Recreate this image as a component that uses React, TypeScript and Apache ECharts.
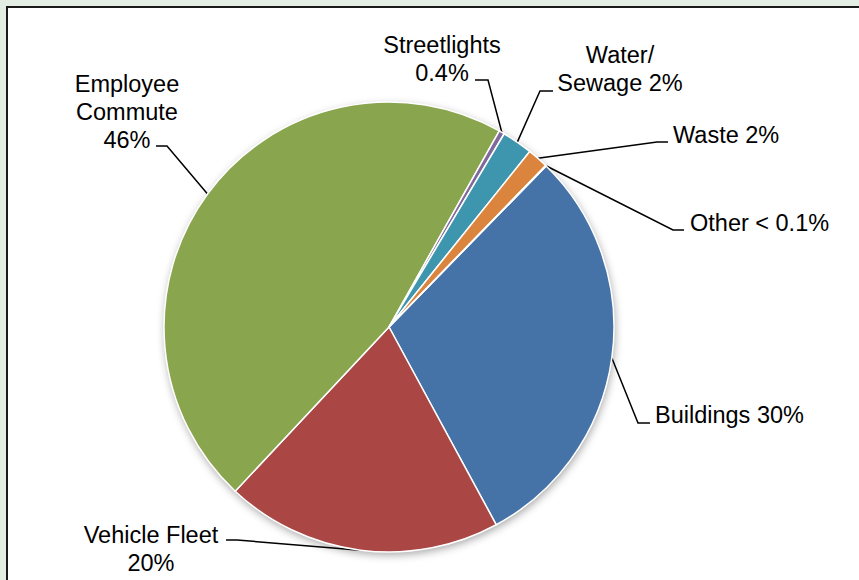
import React, { useEffect, useRef } from "react";
import * as echarts from "echarts";

// ---- Data ----
const categories = [
  "Buildings",
  "Vehicle Fleet",
  "Employee Commute",
  "Streetlights",
  "Water/Sewage",
  "Waste",
  "Other",
];
const values = [29.8, 19.9, 46.2, 0.4, 2.2, 1.5, 0.05];
const labelTexts = [
  "Buildings 30%",
  "Vehicle Fleet\n20%",
  "Employee\nCommute\n46%",
  "Streetlights\n0.4%",
  "Water/\nSewage 2%",
  "Waste 2%",
  "Other < 0.1%",
];

// ---- Styles / layout ----
const colors = ["#4572A7", "#AA4643", "#89A54E", "#80699B", "#3D96AE", "#DB843D", "#92A8CD"];

// label anchor (x,y,align) and leader-line elbow / end points
const labelLayouts = [
  { x: 655, y: 415, align: "left", elbow: [638, 423], end: [650, 423] },
  { x: 151, y: 549, align: "center", elbow: [237, 540], end: [226, 540] },
  { x: 127, y: 112, align: "center", elbow: [167, 146], end: [156, 146] },
  { x: 442, y: 59, align: "center", elbow: [488, 80], end: [475, 80] },
  { x: 620, y: 69, align: "center", elbow: [540, 91], end: [553, 91] },
  { x: 673, y: 135, align: "left", elbow: [657, 142], end: [668, 142] },
  { x: 690, y: 223, align: "left", elbow: [673, 230], end: [684, 230] },
];

const CENTER = [389, 327];
const RADIUS = 225;

export default function App() {
  const ref = useRef<HTMLDivElement>(null);
  useEffect(() => {
    if (!ref.current) return;
    const chart = echarts.init(ref.current, undefined, { renderer: "svg" });
    const data = categories.map((name, i) => ({
      name,
      value: values[i],
      itemStyle: { color: colors[i] },
      label: { formatter: labelTexts[i] },
    }));
    chart.setOption({
      animation: false,
      backgroundColor: "#e3ede3",
      graphic: [
        {
          type: "rect",
          shape: { x: 7, y: 7, width: 900, height: 620 },
          style: { fill: "#ffffff", stroke: "#1a1a1a", lineWidth: 2 },
          z: -10,
          silent: true,
        },
      ],
      series: [
        {
          type: "pie",
          center: CENTER,
          radius: RADIUS,
          silent: true,
          z: 1,
          label: { show: false },
          labelLine: { show: false },
          data: [{ value: 1, itemStyle: { color: "#ffffff" } }],
          itemStyle: {
            shadowBlur: 8,
            shadowOffsetX: 1,
            shadowOffsetY: 3,
            shadowColor: "rgba(0,0,0,0.35)",
          },
        },
        {
          type: "pie",
          center: CENTER,
          radius: RADIUS,
          z: 2,
          startAngle: 45.7,
          clockwise: true,
          avoidLabelOverlap: false,
          itemStyle: { borderColor: "#ffffff", borderWidth: 1.5 },
          label: {
            show: true,
            position: "outside",
            fontFamily: "Liberation Sans, Arial, sans-serif",
            fontSize: 23.5,
            lineHeight: 28,
            color: "#000000",
          },
          labelLine: {
            show: true,
            length: 10,
            length2: 10,
            lineStyle: { color: "#000000", width: 1.5 },
          },
          labelLayout: (params: any) => {
            const L = labelLayouts[params.dataIndex];
            if (!L) return {};
            const pts = params.labelLinePoints;
            const start = pts && pts[0] ? pts[0] : L.elbow;
            return {
              x: L.x,
              y: L.y,
              align: L.align,
              verticalAlign: "middle",
              labelLinePoints: [start, L.elbow, L.end],
            };
          },
          data,
        },
      ],
    });
    return () => chart.dispose();
  }, []);
  return (
    <div
      ref={ref}
      style={{ position: "absolute", left: 0, top: 0, width: 859, height: 580 }}
    />
  );
}
